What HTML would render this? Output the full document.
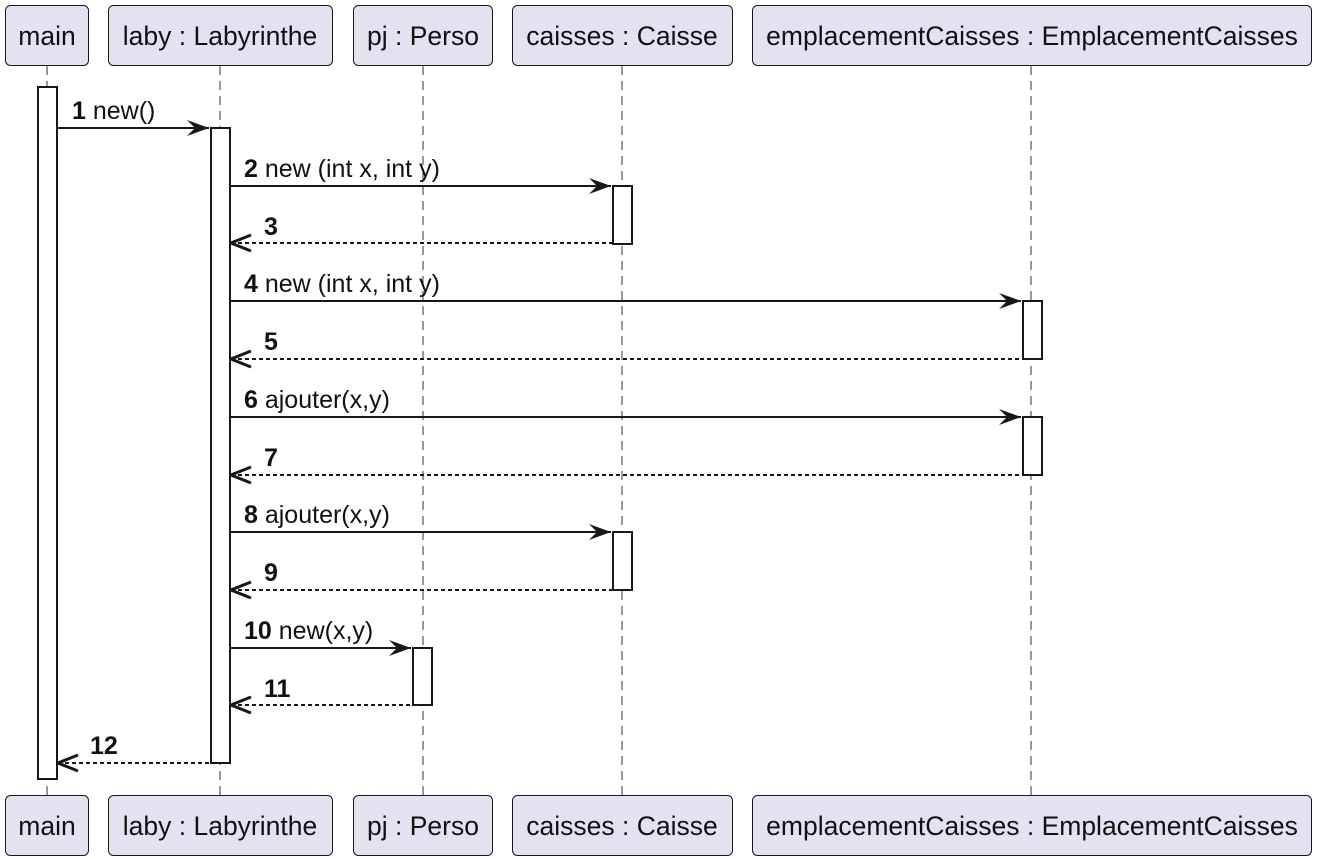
<!DOCTYPE html>
<html><head><meta charset="utf-8"><style>body{margin:0;background:#fff}svg{display:block}</style></head><body>
<svg width="1320" height="859" xmlns="http://www.w3.org/2000/svg" font-family="Liberation Sans, sans-serif">
<defs>
<marker id="a" markerWidth="26" markerHeight="20" refX="22" refY="10" orient="auto" markerUnits="userSpaceOnUse"><path d="M0,2 L22,10 L0,18 L8,10 Z" fill="#181818"/></marker>
<marker id="b" markerWidth="26" markerHeight="20" refX="2" refY="10" orient="auto" markerUnits="userSpaceOnUse"><path d="M22,2 L2,10 L22,18" fill="none" stroke="#181818" stroke-width="3"/></marker>
</defs>
<g stroke="#333" stroke-width="1" stroke-dasharray="9,6">
<line x1="47" y1="66" x2="47" y2="795"/><line x1="220" y1="66" x2="220" y2="795"/><line x1="423" y1="66" x2="423" y2="795"/><line x1="622" y1="66" x2="622" y2="795"/><line x1="1031" y1="66" x2="1031" y2="795"/>
</g>
<g fill="#E2E2F0" stroke="#181818" stroke-width="1">
<rect x="5.5" y="5.5" width="83" height="60" rx="5"/><rect x="108.5" y="5.5" width="224" height="60" rx="5"/><rect x="353.5" y="5.5" width="139" height="60" rx="5"/><rect x="512.5" y="5.5" width="220" height="60" rx="5"/><rect x="752.5" y="5.5" width="559" height="60" rx="5"/>
<rect x="5.5" y="795.5" width="83" height="60" rx="5"/><rect x="108.5" y="795.5" width="224" height="60" rx="5"/><rect x="353.5" y="795.5" width="139" height="60" rx="5"/><rect x="512.5" y="795.5" width="220" height="60" rx="5"/><rect x="752.5" y="795.5" width="559" height="60" rx="5"/>
</g>
<g font-size="26.5" fill="#111" text-anchor="middle">
<text x="47" y="45">main</text><text x="220" y="45">laby : Labyrinthe</text><text x="423" y="45">pj : Perso</text><text x="622" y="45">caisses : Caisse</text><text x="1032" y="45">emplacementCaisses : EmplacementCaisses</text>
<text x="47" y="835">main</text><text x="220" y="835">laby : Labyrinthe</text><text x="423" y="835">pj : Perso</text><text x="622" y="835">caisses : Caisse</text><text x="1032" y="835">emplacementCaisses : EmplacementCaisses</text>
</g>
<g fill="#fff" stroke="#181818" stroke-width="2">
<rect x="38" y="87" width="19" height="692"/><rect x="211" y="128" width="19" height="635"/>
<rect x="613" y="186" width="19" height="58"/><rect x="613" y="532" width="19" height="58"/>
<rect x="1023" y="301" width="19" height="58"/><rect x="1023" y="417" width="19" height="58"/>
<rect x="413" y="648" width="19" height="57"/>
</g>
<g stroke="#181818" stroke-width="2" fill="none">
<line x1="57" y1="128" x2="209" y2="128" marker-end="url(#a)"/>
<line x1="230" y1="186" x2="611" y2="186" marker-end="url(#a)"/>
<line x1="231" y1="243" x2="613" y2="243" stroke-dasharray="4,3" marker-start="url(#b)"/>
<line x1="230" y1="301" x2="1021" y2="301" marker-end="url(#a)"/>
<line x1="231" y1="359" x2="1023" y2="359" stroke-dasharray="4,3" marker-start="url(#b)"/>
<line x1="230" y1="417" x2="1021" y2="417" marker-end="url(#a)"/>
<line x1="231" y1="475" x2="1023" y2="475" stroke-dasharray="4,3" marker-start="url(#b)"/>
<line x1="230" y1="532" x2="611" y2="532" marker-end="url(#a)"/>
<line x1="231" y1="590" x2="613" y2="590" stroke-dasharray="4,3" marker-start="url(#b)"/>
<line x1="230" y1="648" x2="411" y2="648" marker-end="url(#a)"/>
<line x1="231" y1="705" x2="413" y2="705" stroke-dasharray="4,3" marker-start="url(#b)"/>
<line x1="58" y1="763" x2="211" y2="763" stroke-dasharray="4,3" marker-start="url(#b)"/>
</g>
<g font-size="25" fill="#111">
<text x="72" y="119"><tspan font-weight="bold">1</tspan> new()</text>
<text x="244" y="177"><tspan font-weight="bold">2</tspan> new (int x, int y)</text>
<text x="264" y="235" font-weight="bold">3</text>
<text x="244" y="292"><tspan font-weight="bold">4</tspan> new (int x, int y)</text>
<text x="264" y="350" font-weight="bold">5</text>
<text x="244" y="408"><tspan font-weight="bold">6</tspan> ajouter(x,y)</text>
<text x="264" y="466" font-weight="bold">7</text>
<text x="244" y="523"><tspan font-weight="bold">8</tspan> ajouter(x,y)</text>
<text x="264" y="581" font-weight="bold">9</text>
<text x="244" y="639"><tspan font-weight="bold">10</tspan> new(x,y)</text>
<text x="264" y="697" font-weight="bold">11</text>
<text x="90" y="754" font-weight="bold">12</text>
</g>
</svg>
</body></html>
